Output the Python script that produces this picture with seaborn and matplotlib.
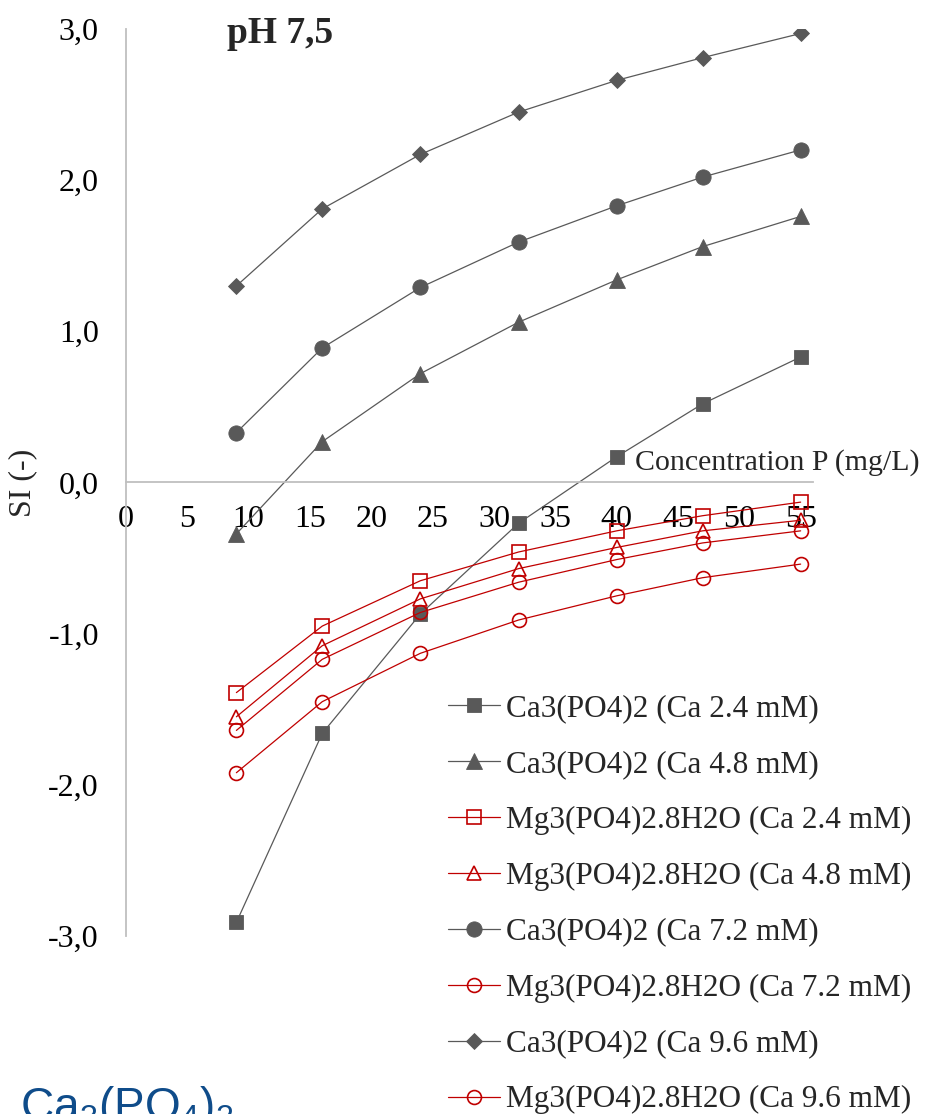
import matplotlib
matplotlib.use("Agg")
import matplotlib.pyplot as plt
import seaborn as sns
import pandas as pd

# concentration P (mg/L)
conc_p = [9, 16, 24, 32, 40, 47, 55]

# saturation indices
si_ca_24 = [-2.91, -1.66, -0.87, -0.27, 0.17, 0.52, 0.83]
si_ca_48 = [-0.34, 0.27, 0.72, 1.06, 1.34, 1.56, 1.76]
si_mg_24 = [-1.39, -0.95, -0.65, -0.46, -0.32, -0.22, -0.13]
si_mg_48 = [-1.55, -1.08, -0.77, -0.57, -0.43, -0.32, -0.25]
si_ca_72 = [0.33, 0.89, 1.29, 1.59, 1.83, 2.02, 2.20]
si_mg_72 = [-1.64, -1.17, -0.86, -0.66, -0.51, -0.40, -0.32]
si_ca_96 = [1.30, 1.81, 2.17, 2.45, 2.66, 2.81, 2.97]
si_mg_96 = [-1.92, -1.45, -1.13, -0.91, -0.75, -0.63, -0.54]

labels = [
    "Ca3(PO4)2 (Ca 2.4 mM)",
    "Ca3(PO4)2 (Ca 4.8 mM)",
    "Mg3(PO4)2.8H2O (Ca 2.4 mM)",
    "Mg3(PO4)2.8H2O (Ca 4.8 mM)",
    "Ca3(PO4)2 (Ca 7.2 mM)",
    "Mg3(PO4)2.8H2O (Ca 7.2 mM)",
    "Ca3(PO4)2 (Ca 9.6 mM)",
    "Mg3(PO4)2.8H2O (Ca 9.6 mM)",
]
series = [si_ca_24, si_ca_48, si_mg_24, si_mg_48, si_ca_72, si_mg_72, si_ca_96, si_mg_96]

x_ticks = [0, 5, 10, 15, 20, 25, 30, 35, 40, 45, 50, 55]
y_ticks = [-3, -2, -1, 0, 1, 2, 3]
y_ticklabels = ["-3,0", "-2,0", "-1,0", "0,0", "1,0", "2,0", "3,0"]

GRAY = "#595959"
RED = "#C00000"
AXIS = "#BFBFBF"

# marker, size, filled, colour per series
styles = [
    ("s", 10.5, True, GRAY),
    ("^", 11, True, GRAY),
    ("s", 9.5, False, RED),
    ("^", 10, False, RED),
    ("o", 11, True, GRAY),
    ("o", 10, False, RED),
    ("D", 7.8, True, GRAY),
    ("o", 10, False, RED),
]

sns.set_style("white")
plt.rcParams["font.family"] = ["Liberation Serif", "DejaVu Serif"]
plt.rcParams["mathtext.fontset"] = "custom"
plt.rcParams["mathtext.rm"] = "Liberation Sans"

fig = plt.figure(figsize=(9.53, 11.14), dpi=100)
ax = fig.add_axes([0.1322, 0.1598, 0.853 - 0.1322, 0.974 - 0.1598])

for lab, vals, (mk, ms, filled, col) in zip(labels, series, styles):
    df = pd.DataFrame({"conc": conc_p, "si": vals})
    sns.lineplot(data=df, x="conc", y="si", ax=ax, label=lab, color=col,
                 linewidth=0.9, marker=mk, markersize=ms,
                 markerfacecolor=col if filled else "none",
                 markeredgecolor=col, markeredgewidth=0.6 if filled else 1.2)

ax.set_xlim(0, 56)
ax.set_ylim(-3, 3)
ax.spines["bottom"].set_position(("data", 0))
ax.spines["top"].set_visible(False)
ax.spines["right"].set_visible(False)
for s in ("left", "bottom"):
    ax.spines[s].set_color(AXIS)
    ax.spines[s].set_linewidth(1.3)

ax.set_xticks(x_ticks)
ax.set_xticklabels([str(t) for t in x_ticks])
ax.set_yticks(y_ticks)
ax.set_yticklabels(y_ticklabels)
ax.tick_params(axis="both", direction="out", length=6.5, width=1.3, color=AXIS,
               labelsize=23, labelcolor="black")
ax.tick_params(axis="x", pad=10)
ax.tick_params(axis="y", pad=13)
ax.set_xlabel("")
ax.set_ylabel("SI (-)", fontsize=23)
ax.yaxis.set_label_coords(-0.1296, 0.5)

ax.text(0.147, 0.9846, "pH 7,5", transform=ax.transAxes, fontsize=27,
        fontweight="bold", va="baseline", ha="left")
fig.text(920 / 953, 1 - 463 / 1114, "Concentration P (mg/L)", fontsize=21.5,
         ha="right", va="center")

ax.legend(loc="upper left", bbox_to_anchor=(448 / 953, 1 - 694 / 1114),
          bbox_transform=fig.transFigure, frameon=False, fontsize=22.5,
          borderpad=0, borderaxespad=0, handlelength=1.65, handletextpad=0.2,
          labelspacing=0.86, numpoints=1, markerscale=1.0)

fig.text(20 / 953, -0.005, r"Ca$_3$(PO$_4$)$_2$", fontsize=33, color="#0F4C8A",
         family="Liberation Sans", ha="left", va="baseline")

fig.savefig("out.png", dpi=100)
